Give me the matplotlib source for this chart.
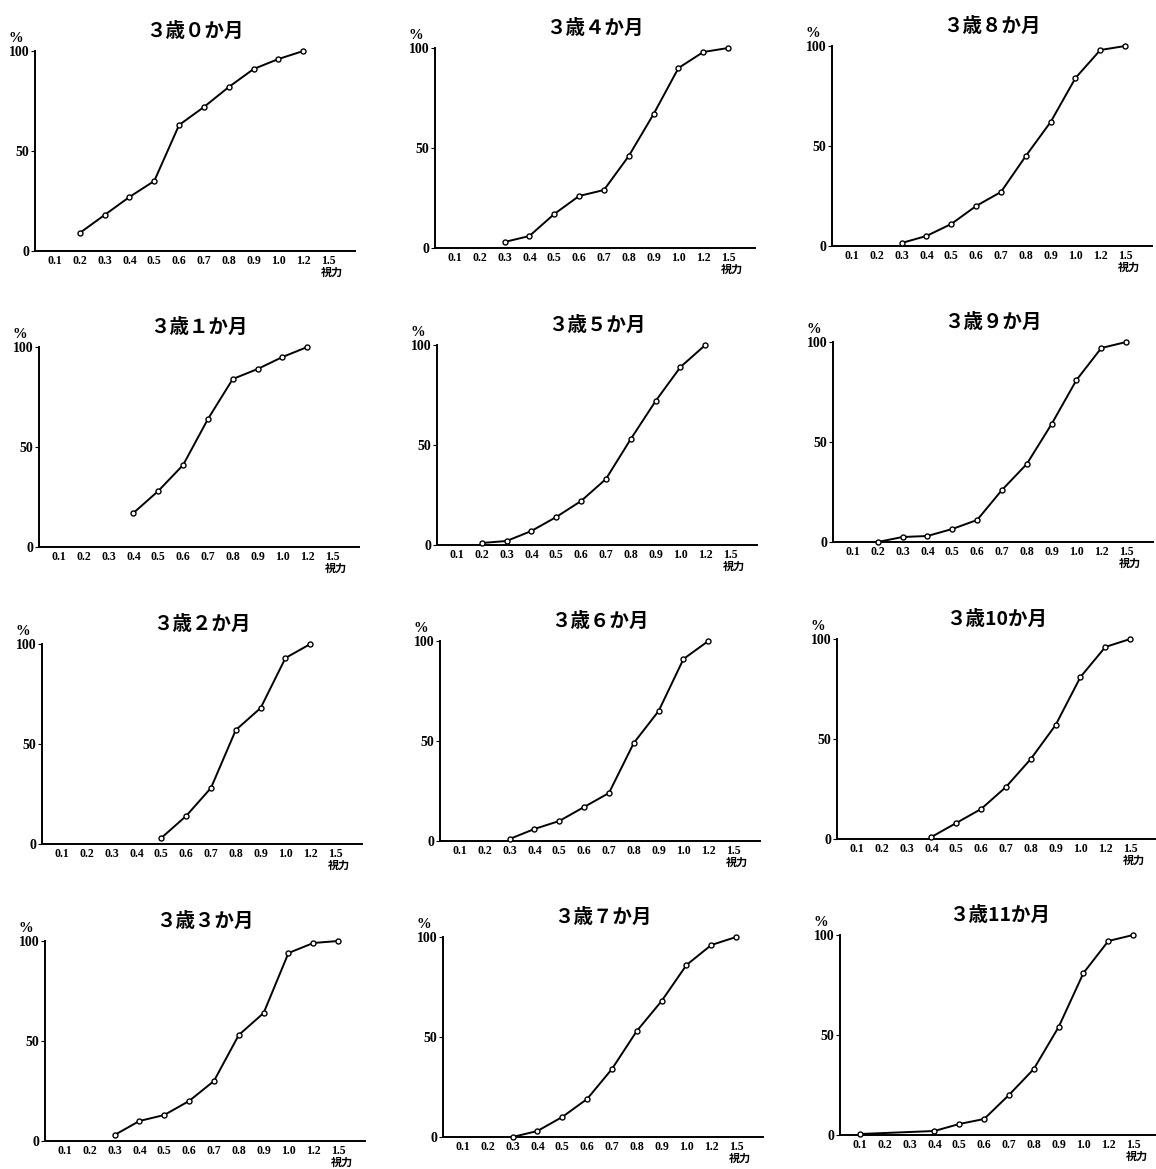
import matplotlib
matplotlib.use("Agg")
import matplotlib.pyplot as plt
import matplotlib.transforms as mtransforms
import numpy as np

nan = np.nan

# 視力のカテゴリ
acuity_labels = ["0.1", "0.2", "0.3", "0.4", "0.5", "0.6", "0.7", "0.8", "0.9", "1.0", "1.2", "1.5"]
y_ticks = [0, 50, 100]

# 各月齢の累積%
m0 = [nan, 9, 18, 27, 35, 63, 72, 82, 91, 96, 100, nan]
m1 = [nan, nan, nan, 17, 28, 41, 64, 84, 89, 95, 100, nan]
m2 = [nan, nan, nan, nan, 3, 14, 28, 57, 68, 93, 100, nan]
m3 = [nan, nan, 3, 10, 13, 20, 30, 53, 64, 94, 99, 100]
m4 = [nan, nan, 3, 6, 17, 26, 29, 46, 67, 90, 98, 100]
m5 = [nan, 1, 2, 7, 14, 22, 33, 53, 72, 89, 100, nan]
m6 = [nan, nan, 1, 6, 10, 17, 24, 49, 65, 91, 100, nan]
m7 = [nan, nan, 0, 3, 10, 19, 34, 53, 68, 86, 96, 100]
m8 = [nan, nan, 1.5, 5, 11, 20, 27, 45, 62, 84, 98, 100]
m9 = [nan, 0, 2.5, 3, 6.5, 11, 26, 39, 59, 81, 97, 100]
m10 = [nan, nan, nan, 1, 8, 15, 26, 40, 57, 81, 96, 100]
m11 = [0.5, nan, nan, 2, 5.5, 8, 20, 33, 54, 81, 97, 100]

titles = ["３歳０か月", "３歳１か月", "３歳２か月", "３歳３か月",
          "３歳４か月", "３歳５か月", "３歳６か月", "３歳７か月",
          "３歳８か月", "３歳９か月", "３歳10か月", "３歳11か月"]
series = [m0, m1, m2, m3, m4, m5, m6, m7, m8, m9, m10, m11]

# 各パネルの左端x・0%のy（ピクセル）
origins = [(35, 251), (39, 547), (42, 844), (45, 1141),
           (435, 248), (437, 545), (440, 841), (443, 1137),
           (832, 246), (833, 542), (837, 839), (840, 1135)]

W, H = 1156, 1169
AX_W, AX_H = 320, 200
SERIF = ["Liberation Serif", "DejaVu Serif"]
CJK = ["Noto Sans CJK JP", "DejaVu Sans"]
TICK_FONT = {"family": SERIF, "weight": "bold", "size": 8.5}


def draw_panel(fig, origin, title, values):
    left, y0 = origin
    ax = fig.add_axes([left / W, 1 - y0 / H, AX_W / W, AX_H / H])
    x = np.arange(1, len(acuity_labels) + 1)
    y = np.array(values, dtype=float)
    ok = ~np.isnan(y)
    ax.plot(x[ok], y[ok], color="black", lw=1.4, marker="o", ms=3.6,
            mfc="white", mec="black", mew=1.0, clip_on=False, zorder=3)
    ax.set_xlim(0.2, 13.08)
    ax.set_ylim(0, 100)
    ax.spines["top"].set_visible(False)
    ax.spines["right"].set_visible(False)
    ax.spines["left"].set_linewidth(1.4)
    ax.spines["bottom"].set_linewidth(1.4)
    ax.set_xticks(x)
    ax.set_xticklabels(acuity_labels, fontdict=TICK_FONT)
    ax.set_yticks(y_ticks)
    ax.set_yticklabels([str(t) for t in y_ticks], fontdict={**TICK_FONT, "size": 10})
    ax.tick_params(axis="x", length=0, pad=3)
    ax.tick_params(axis="y", length=3, width=0.8, pad=1)
    ax.set_title(title, family=CJK, weight="bold", fontsize=14, pad=10)
    ax.text(-0.06, 1.03, "%", transform=ax.transAxes, fontsize=10.5,
            weight="bold", ha="center", va="bottom", family=SERIF)
    trans = mtransforms.blended_transform_factory(ax.transData, ax.transAxes)
    ax.text(12.15, -0.105, "視力", transform=trans, family=CJK, weight="bold",
            fontsize=8, ha="center", va="center")


def main():
    fig = plt.figure(figsize=(W / 100, H / 100), dpi=100)
    for origin, title, values in zip(origins, titles, series):
        draw_panel(fig, origin, title, values)
    fig.savefig("out.png", dpi=100, facecolor="white")


if __name__ == "__main__":
    main()
